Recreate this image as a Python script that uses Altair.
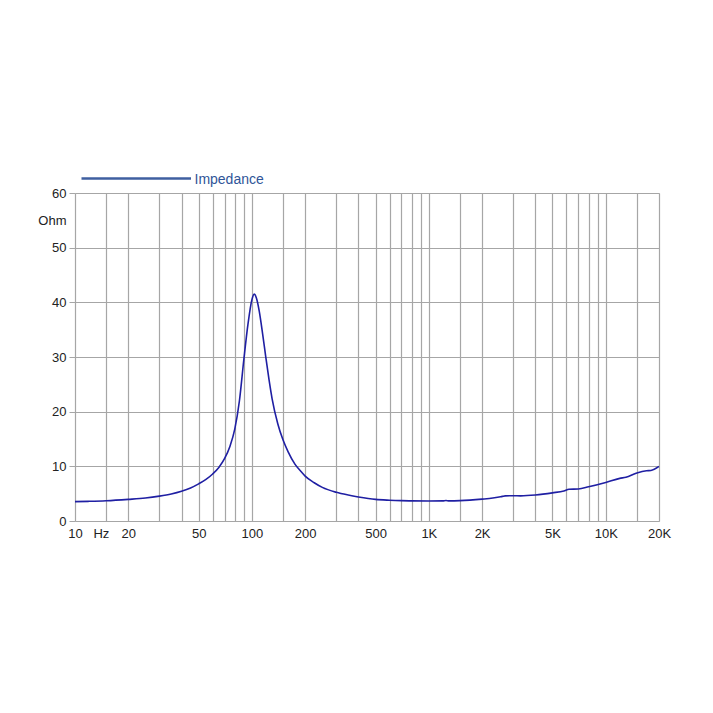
import altair as alt
import pandas as pd

# Impedance curve (frequency in Hz, impedance in Ohm)
freq = [10, 12, 15, 20, 25, 30, 35, 40, 45, 50, 55, 60, 65, 70, 75, 80, 85, 90,
        95, 100, 103, 106, 110, 115, 120, 125, 130, 140, 150, 160, 175, 190,
        200, 225, 250, 300, 350, 400, 500, 600, 700, 800, 1000, 1200, 1250,
        1300, 1500, 2000, 2300, 2600, 2700, 3000, 3300, 4000, 5000, 5800, 6200,
        7000, 8000, 10000, 12000, 13000, 15000, 17000, 18000, 20000]
ohm = [3.55, 3.6, 3.7, 3.95, 4.2, 4.55, 4.95, 5.45, 6.05, 6.8, 7.6, 8.6, 9.8,
       11.4, 13.6, 16.8, 22.0, 29.5, 36.0, 40.5, 41.5, 40.8, 38.4, 34.2, 29.8,
       25.8, 22.4, 17.8, 14.8, 12.7, 10.4, 9.0, 8.2, 7.0, 6.15, 5.25, 4.75, 4.4,
       3.95, 3.8, 3.72, 3.68, 3.65, 3.68, 3.76, 3.68, 3.72, 4.0, 4.2, 4.5, 4.6,
       4.62, 4.6, 4.75, 5.15, 5.5, 5.8, 5.85, 6.25, 7.05, 7.8, 8.0, 8.8, 9.2,
       9.25, 10.0]

series_name = ["Impedance"]

# Axis texts
x_grid = [10, 15, 20, 30, 40, 50, 60, 70, 80, 90, 100, 150, 200, 300, 400, 500,
          600, 700, 800, 900, 1000, 1500, 2000, 3000, 4000, 5000, 6000, 7000,
          8000, 9000, 10000, 15000, 20000]
x_label_values = [10, 14, 20, 50, 100, 200, 500, 1000, 2000, 5000, 10000, 20000]
x_label_text = ["10", "Hz", "20", "50", "100", "200", "500", "1K", "2K", "5K",
                "10K", "20K"]
y_values = [0, 10, 20, 30, 40, 50, 60]
y_unit_value = 55
y_unit_text = "Ohm"

df = pd.DataFrame({"freq": freq, "ohm": ohm})
leg = pd.DataFrame({"series": series_name})

x_all = sorted(set(x_grid) | set(x_label_values))
x_expr = "".join(
    f"datum.value == {v} ? '{t}' : " for v, t in zip(x_label_values, x_label_text)
) + "''"
y_all = y_values + [y_unit_value]
y_expr = f"datum.value == {y_unit_value} ? '{y_unit_text}' : datum.label"

GRID = "#a6a6a6"
FONT = "Liberation Sans"

x_axis = alt.Axis(
    values=x_all, labelExpr=x_expr, title=None, domain=False, ticks=False,
    grid=True, gridColor=GRID, gridWidth=1.2,
    gridOpacity={"condition": {"test": "datum.value == 14", "value": 0}, "value": 1},
    labelFont=FONT, labelFontSize=13, labelColor="#222222", labelPadding=6,
    labelOverlap=False, labelFlush=False,
)
y_axis = alt.Axis(
    values=y_all, labelExpr=y_expr, title=None, domain=False,
    ticks=True, tickSize=6, tickColor=GRID,
    tickOpacity={"condition": {"test": f"datum.value == {y_unit_value}", "value": 0}, "value": 1},
    grid=True, gridColor=GRID, gridWidth=1.2,
    gridOpacity={"condition": {"test": f"datum.value == {y_unit_value}", "value": 0}, "value": 1},
    labelFont=FONT, labelFontSize=13, labelColor="#222222", labelPadding=3,
    labelOverlap=False, labelFlush=False,
)

line = alt.Chart(df).mark_line(
    color="#1f1fa3", strokeWidth=1.6, interpolate="monotone"
).encode(
    x=alt.X("freq:Q", scale=alt.Scale(type="log", domain=[10, 20000], nice=False), axis=x_axis),
    y=alt.Y("ohm:Q", scale=alt.Scale(domain=[0, 60], nice=False), axis=y_axis),
)

leg_line = alt.Chart(leg).mark_rule(color="#3f5fa0", strokeWidth=2.5).encode(
    x=alt.value(6.5), x2=alt.value(116), y=alt.value(-14.5)
)
leg_text = alt.Chart(leg).mark_text(
    align="left", baseline="middle", font=FONT, fontSize=14, color="#2f5598"
).encode(
    x=alt.value(119.5), y=alt.value(-13.5), text="series:N"
)

chart = alt.layer(line, leg_line, leg_text).properties(
    width=584, height=328,
    autosize=alt.AutoSizeParams(type="none"),
    padding={"left": 75, "top": 193, "right": 54, "bottom": 192},
).configure_view(stroke="transparent").configure(background="white")

chart.save("out.html", embed_options={"renderer": "svg", "actions": False})
